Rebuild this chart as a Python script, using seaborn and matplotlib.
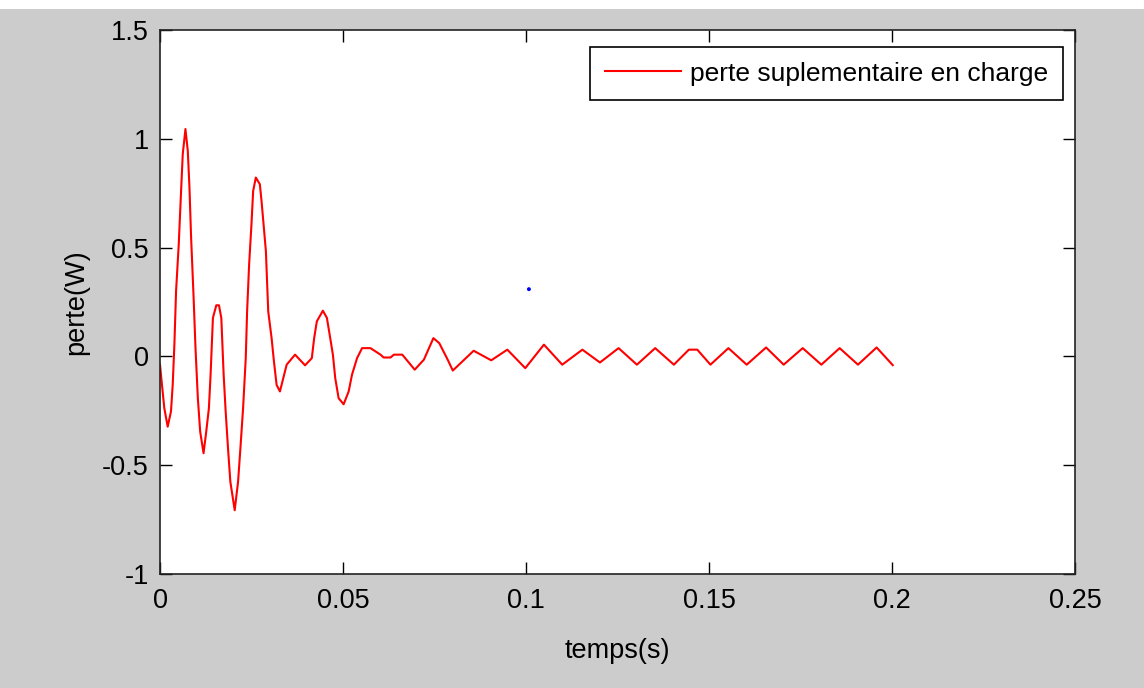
import matplotlib
matplotlib.use("Agg")
import matplotlib.pyplot as plt
import seaborn as sns
from matplotlib.patches import Rectangle

# ---- data ----
temps = [0.0, 0.00054, 0.00118, 0.0021, 0.0030, 0.00347, 0.00393, 0.00439, 0.00512, 0.00576,
         0.00622, 0.00695, 0.00759, 0.00805, 0.0085, 0.00915, 0.0097, 0.01034, 0.01098, 0.0119,
         0.01263, 0.01336, 0.01382, 0.01446, 0.01538, 0.01611, 0.01675, 0.01739, 0.01794, 0.01858,
         0.01922, 0.02041, 0.02133, 0.02197, 0.0227, 0.02343, 0.0238, 0.02435, 0.02499, 0.02545,
         0.02618, 0.02728, 0.02774, 0.02838, 0.02893, 0.02957, 0.03049, 0.03113, 0.03186, 0.03277,
         0.03461, 0.0369, 0.03964, 0.04148, 0.04212, 0.04285, 0.0445, 0.0456, 0.04651, 0.04724,
         0.04788, 0.0488, 0.05017, 0.05155, 0.05246, 0.05384, 0.05521, 0.0575, 0.06025, 0.0611,
         0.063, 0.0639, 0.0662, 0.0696, 0.0721, 0.0747, 0.0763, 0.0786, 0.0800, 0.0857,
         0.0905, 0.0949, 0.0998, 0.1049, 0.1099, 0.1154, 0.1202, 0.1253, 0.1303, 0.1353,
         0.1404, 0.1445, 0.1468, 0.1504, 0.1553, 0.1603, 0.1656, 0.1704, 0.1756, 0.1807,
         0.1857, 0.1907, 0.1958, 0.2002]
perte = [-0.038, -0.131, -0.238, -0.323, -0.253, -0.131, 0.054, 0.30, 0.515, 0.76,
         0.93, 1.045, 0.945, 0.776, 0.545, 0.284, 0.038, -0.192, -0.346, -0.445,
         -0.346, -0.238, -0.084, 0.177, 0.235, 0.235, 0.177, -0.084, -0.253, -0.422,
         -0.576, -0.707, -0.576, -0.422, -0.238, -0.008, 0.207, 0.422, 0.607, 0.76,
         0.822, 0.791, 0.714, 0.591, 0.484, 0.207, 0.084, -0.023, -0.131, -0.161,
         -0.038, 0.008, -0.041, -0.008, 0.084, 0.161, 0.21, 0.177, 0.084, 0.008,
         -0.10, -0.192, -0.22, -0.161, -0.084, -0.008, 0.038, 0.038, 0.008, -0.005,
         -0.005, 0.008, 0.008, -0.061, -0.015, 0.084, 0.061, -0.015, -0.065, 0.026,
         -0.018, 0.031, -0.054, 0.054, -0.038, 0.031, -0.028, 0.038, -0.038, 0.038,
         -0.038, 0.031, 0.031, -0.038, 0.038, -0.038, 0.041, -0.038, 0.038, -0.038,
         0.038, -0.038, 0.041, -0.04]
point_t = [0.1008]
point_v = [0.309]
xticks = [0, 0.05, 0.1, 0.15, 0.2, 0.25]
xtick_labels = ["0", "0.05", "0.1", "0.15", "0.2", "0.25"]
yticks = [-1, -0.5, 0, 0.5, 1, 1.5]
ytick_labels = ["-1", "-0.5", "0", "0.5", "1", "1.5"]
legend_label = "perte suplementaire en charge"

plt.rcParams['font.family'] = ['Liberation Sans', 'DejaVu Sans']
FS = 19.5

fig = plt.figure(figsize=(11.44, 6.88), dpi=100)
fig.patch.set_facecolor('#cccccc')
fig.patches.append(Rectangle((0, 1 - 9 / 688), 1, 9 / 688, transform=fig.transFigure,
                             facecolor='white', edgecolor='none', zorder=0))

ax = fig.add_axes([160 / 1144, (688 - 574) / 688, 915 / 1144, 544 / 688])
ax.set_facecolor('white')

sns.lineplot(x=temps, y=perte, ax=ax, color='#ff0000', linewidth=1.5,
             label=legend_label, estimator=None, sort=False)
sns.scatterplot(x=point_t, y=point_v, ax=ax, color='#0000ff', s=8, marker='o',
                edgecolor='none', legend=False)

ax.set_xlim(0, 0.25)
ax.set_ylim(-1, 1.5)
ax.set_xticks(xticks)
ax.set_xticklabels(xtick_labels)
ax.set_yticks(yticks)
ax.set_yticklabels(ytick_labels)
ax.tick_params(direction='in', length=8.5, width=1, labelsize=FS, colors='black',
               top=True, right=True)
ax.tick_params(axis='x', pad=10)
ax.tick_params(axis='y', pad=8)
for s in ax.spines.values():
    s.set_color('#222222')
    s.set_linewidth(1.2)

ax.set_xlabel("temps(s)", fontsize=FS, labelpad=17)
ax.set_ylabel("perte(W)", fontsize=FS, labelpad=9)

leg = ax.legend(loc='upper right', bbox_to_anchor=((1063 - 160) / 915, (574 - 47) / 544),
                borderaxespad=0, fontsize=19, frameon=True, fancybox=False,
                handlelength=2.9, handletextpad=0.35, borderpad=0.55)
leg.get_frame().set_edgecolor('black')
leg.get_frame().set_linewidth(1.2)
leg.get_frame().set_facecolor('white')
leg.get_frame().set_alpha(1)

fig.savefig("out.png", dpi=100, facecolor=fig.get_facecolor())
